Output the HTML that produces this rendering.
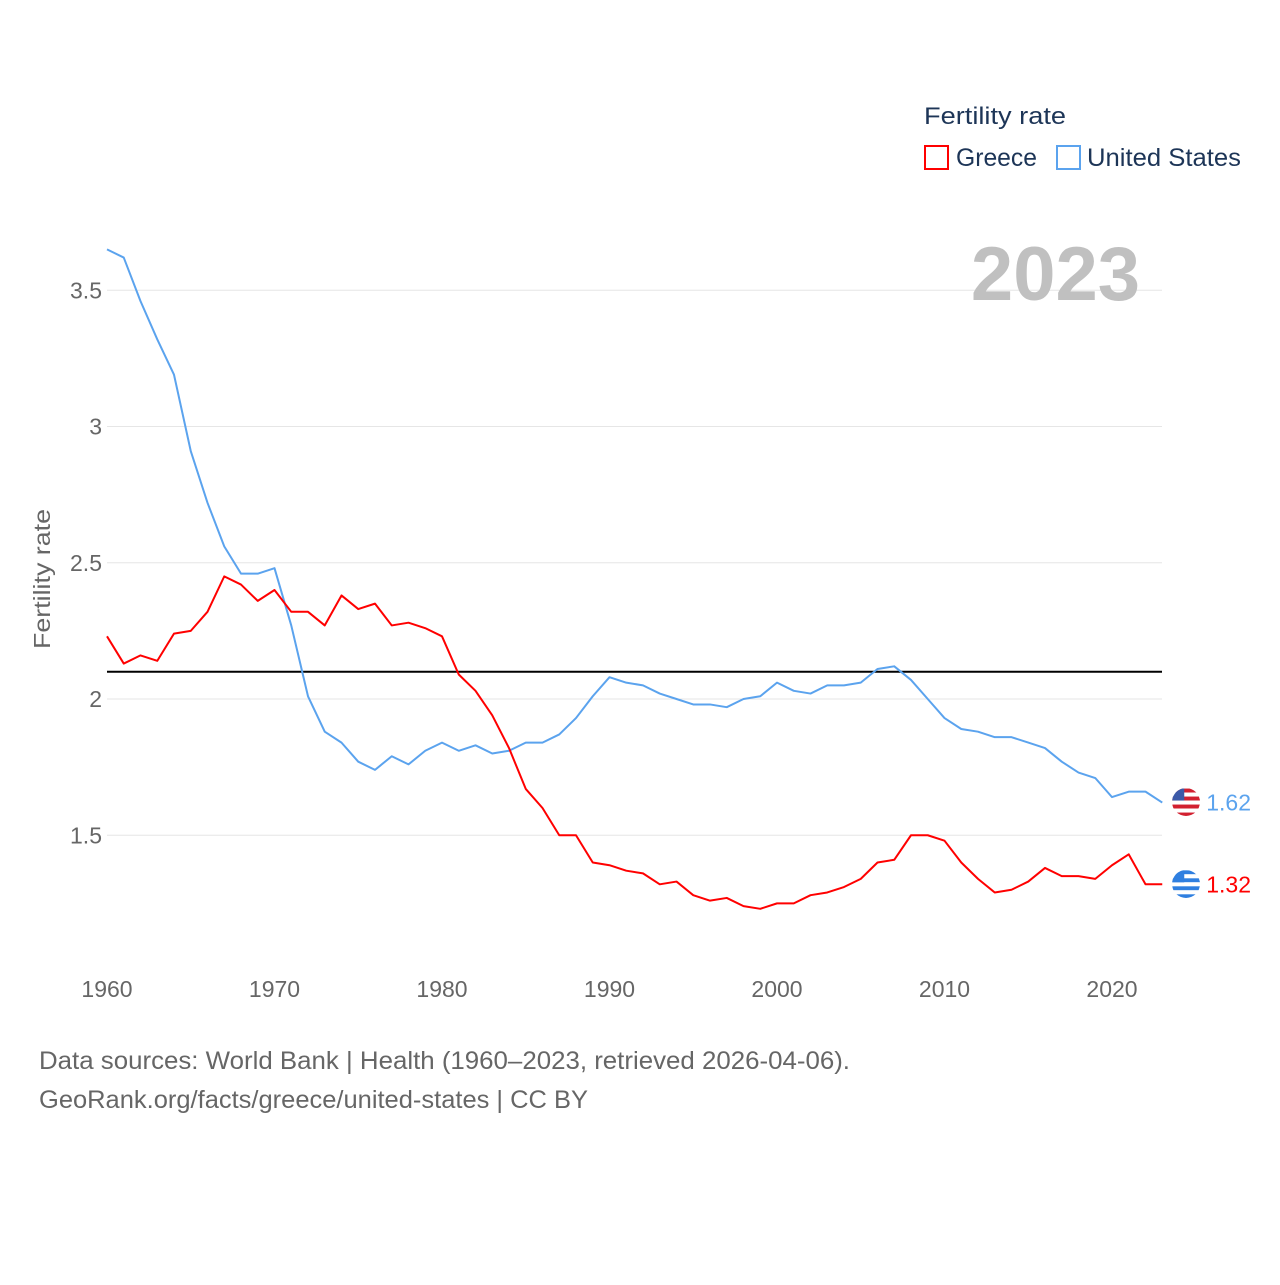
<!DOCTYPE html>
<html><head><meta charset="utf-8">
<style>
body{margin:0;background:#fff;font-family:"Liberation Sans",sans-serif;}
svg text{font-family:"Liberation Sans",sans-serif;}
</style></head>
<body>
<svg id="chart" width="1280" height="1280" viewBox="0 0 1280 1280" xmlns="http://www.w3.org/2000/svg">
<defs>
<clipPath id="c1"><circle cx="1186" cy="802" r="14"/></clipPath>
<clipPath id="c2"><circle cx="1186" cy="884" r="14"/></clipPath>
</defs>
<g id="grid"></g>
<g id="yticks"></g>
<g id="xticks"></g>
<text transform="translate(50,579) rotate(-90)" text-anchor="middle" font-size="23" fill="#666" textLength="140" lengthAdjust="spacingAndGlyphs">Fertility rate</text>
<text x="1140" y="300" text-anchor="end" font-size="76" font-weight="bold" fill="#c0c0c0">2023</text>
<g id="series"></g>
<g>
<text x="924" y="124" font-size="24" fill="#1d3557" textLength="142" lengthAdjust="spacingAndGlyphs">Fertility rate</text>
<g><rect x="925" y="146" width="23" height="23" fill="none" stroke="#f00" stroke-width="2"/><text x="956" y="166" font-size="25" fill="#1d3557" textLength="81" lengthAdjust="spacingAndGlyphs">Greece</text></g>
<g><rect x="1057" y="146" width="23" height="23" fill="none" stroke="#5ba3ee" stroke-width="2"/><text x="1087" y="166" font-size="25" fill="#1d3557" textLength="154" lengthAdjust="spacingAndGlyphs">United States</text></g>
</g>
<text x="39" y="1069" font-size="25" fill="#666" textLength="811" lengthAdjust="spacingAndGlyphs">Data sources: World Bank | Health (1960–2023, retrieved 2026-04-06).</text>
<text x="39" y="1108" font-size="25" fill="#666" textLength="549" lengthAdjust="spacingAndGlyphs">GeoRank.org/facts/greece/united-states | CC BY</text>
</svg>
<script>
const years=[];for(let y=1960;y<=2023;y++)years.push(y);
const usValues=[3.65,3.62,3.46,3.32,3.19,2.91,2.72,2.56,2.46,2.46,2.48,2.27,2.01,1.88,1.84,1.77,1.74,1.79,1.76,1.81,1.84,1.81,1.83,1.80,1.81,1.84,1.84,1.87,1.93,2.01,2.08,2.06,2.05,2.02,2.00,1.98,1.98,1.97,2.00,2.01,2.06,2.03,2.02,2.05,2.05,2.06,2.11,2.12,2.07,2.00,1.93,1.89,1.88,1.86,1.86,1.84,1.82,1.77,1.73,1.71,1.64,1.66,1.66,1.62];
const grValues=[2.23,2.13,2.16,2.14,2.24,2.25,2.32,2.45,2.42,2.36,2.40,2.32,2.32,2.27,2.38,2.33,2.35,2.27,2.28,2.26,2.23,2.09,2.03,1.94,1.82,1.67,1.60,1.50,1.50,1.40,1.39,1.37,1.36,1.32,1.33,1.28,1.26,1.27,1.24,1.23,1.25,1.25,1.28,1.29,1.31,1.34,1.40,1.41,1.50,1.50,1.48,1.40,1.34,1.29,1.30,1.33,1.38,1.35,1.35,1.34,1.39,1.43,1.32,1.32];
const yTicks=[1.5,2,2.5,3,3.5];
const yTickLabels=["1.5","2","2.5","3","3.5"];
const xTicks=[1960,1970,1980,1990,2000,2010,2020];
const replacement=[2.1];
const NS="http://www.w3.org/2000/svg";
const X=y=>107+(y-1960)*16.75;
const Y=v=>699-(v-2)*272.5;
function mk(t,a,p){const e=document.createElementNS(NS,t);for(const k in a)e.setAttribute(k,a[k]);p.appendChild(e);return e;}
const grid=document.getElementById('grid'),yt=document.getElementById('yticks'),xt=document.getElementById('xticks'),ser=document.getElementById('series');
yTicks.forEach((v,i)=>{
 const l=mk('line',{x1:107,x2:1162,y1:Y(v),y2:Y(v),stroke:'#e6e6e6','stroke-width':1},grid);
 
 
 const t=mk('text',{x:102,y:Y(v)+8,'text-anchor':'end','font-size':23,fill:'#666'},yt);
 t.textContent=yTickLabels[i];
 
 
});
xTicks.forEach(v=>{
 const t=mk('text',{x:X(v),y:997,'text-anchor':'middle','font-size':23,fill:'#666'},xt);
 t.textContent=v;
 
 
});
const rl=mk('line',{x1:107,x2:1162,y1:Y(replacement[0]),y2:Y(replacement[0]),stroke:'#000','stroke-width':2},ser);


function series(vals,color,name,c1,c2,clip){
 const p=mk('polyline',{points:vals.map((v,i)=>X(years[i])+','+Y(v)).join(' '),fill:'none',stroke:color,'stroke-width':2,'stroke-linejoin':'round'},ser);
 
 
 const last=vals[vals.length-1],lx=X(years[years.length-1]),ly=Y(last);
 const g=mk('g',{'clip-path':'url(#'+clip+')'},ser);
 
 
 for(let k=0;k<7;k++) mk('rect',{x:lx+10,y:ly-14+k*4,width:28,height:4,fill:k%2?c2:c1},g);
 mk('rect',{x:lx+10,y:ly-14,width:12,height:12,fill:name==='united-states'?'#3c5aa8':'#2f7fe0'},g);
 const t=mk('text',{x:lx+44,y:ly+8,'font-size':23,fill:color},ser);
 t.textContent=last.toFixed(2);
 
 
}
series(usValues,'#5ba3ee','united-states','#d22030','#ffffff','c1');
series(grValues,'#f00','greece','#2f7fe0','#ffffff','c2');
</script>
</body></html>
